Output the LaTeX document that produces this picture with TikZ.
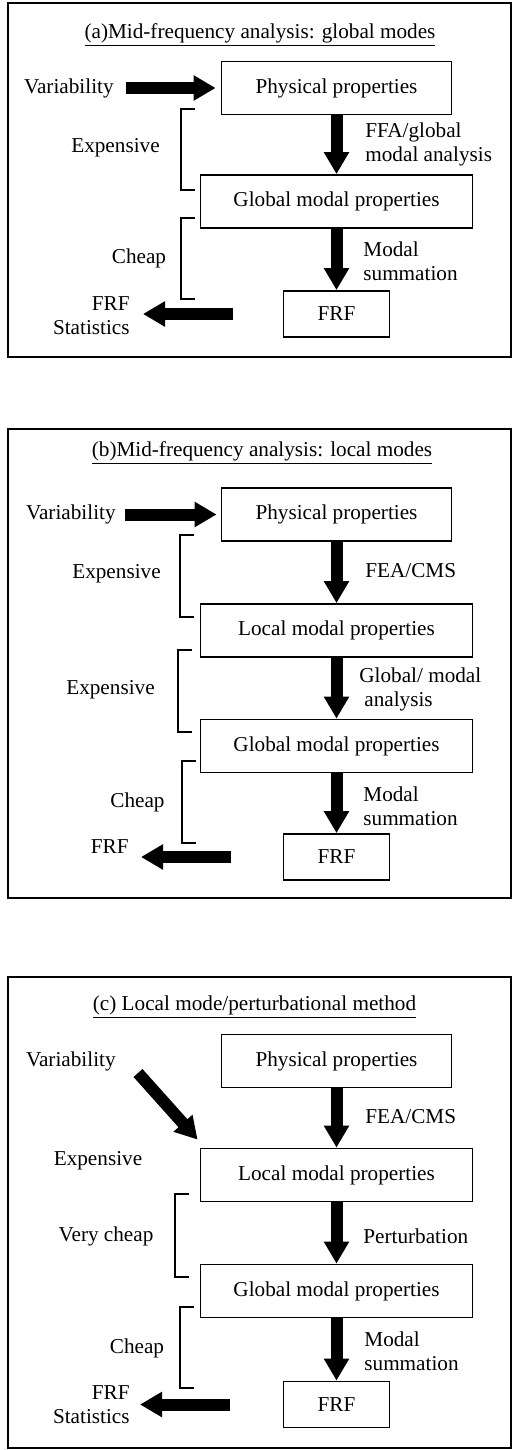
\documentclass[tikz,border=0pt]{standalone}
\usepackage{fontspec}
\setmainfont{Liberation Serif}
\usetikzlibrary{arrows.meta}

\begin{document}
\begin{tikzpicture}[x=0.5pt, y=-0.5pt,
    every node/.style={font=\fontsize{10.6}{12}\selectfont, inner sep=1pt},
    propbox/.style={draw, line width=0.9pt, inner sep=0pt},
    bigarrow/.style={line width=6pt, -{Triangle[width=12pt,length=11pt]}},
    bracket/.style={line width=1pt},
    panel/.style={line width=1pt},
    note/.style={align=left, anchor=west}]
    % Define box sizes
    \def\physw{115pt}
    \def\modalw{136pt}
    \def\frfw{53pt}
    \def\boxh{26.5pt}
    \tikzset{
        physbox/.style={propbox, minimum width=\physw, minimum height=\boxh},
        modalbox/.style={propbox, minimum width=\modalw, minimum height=\boxh},
        frfbox/.style={propbox, minimum width=\frfw, minimum height=23pt}
    }

    \useasboundingbox (0,0) rectangle (515,1450);

    % Panel frames
    \foreach \ya/\yb in {3/357, 429/898, 977/1448} {
        \draw[panel] (8,\ya) rectangle (511,\yb);
    }

    % Cost brackets
    \foreach \xa/\ya/\yb in {181/109/190, 181/218/299, 180/535/617, 178/650/732,
                             182/761/843, 175/1194/1277, 180/1307/1388} {
        \draw[bracket] (\xa+14,\ya) -- (\xa,\ya) -- (\xa,\yb) -- (\xa+14,\yb);
    }

    % (a) global modes
    \node (title1) at (260,35) {\underline{(a)Mid-frequency analysis: global modes}};
    \node[anchor=east] (var1) at (116,88) {Variability};
    \node[physbox] (phys1) at (336.5,88) {Physical properties};
    \node[modalbox] (glob1) at (336.5,201.5) {Global modal properties};
    \node[frfbox] (frf1) at (336.5,314) {FRF};
    \node (exp1) at (115.5,148) {Expensive};
    \node (cheap1) at (139,258) {Cheap};
    \node[note] (lab1a) at (363,144.5) {FFA/global\\modal analysis};
    \node[note] (lab1b) at (361,261) {Modal\\summation};
    \node[anchor=east, align=right] (out1) at (132,316) {FRF\\Statistics};
    \draw[bigarrow, shorten <=5pt, shorten >=2.5pt] (var1.east) -- (phys1.west);
    \draw[bigarrow] (phys1.south) -- (glob1.north);
    \draw[bigarrow] (glob1.south) -- (frf1.north);
    \draw[bigarrow, shorten <=25pt, shorten >=5.5pt] (frf1.west) -- (out1.east |- frf1.west);

    % (b) local modes
    \node (title2) at (262,453) {\underline{(b)Mid-frequency analysis: local modes}};
    \node[anchor=east] (var2) at (118,514.5) {Variability};
    \node[physbox] (phys2) at (336.5,514.5) {Physical properties};
    \node[modalbox] (loc2) at (336.5,630.5) {Local modal properties};
    \node[modalbox] (glob2) at (336.5,746) {Global modal properties};
    \node[frfbox] (frf2) at (336.5,857) {FRF};
    \node (exp2a) at (116.5,574) {Expensive};
    \node (exp2b) at (110.5,690) {Expensive};
    \node (cheap2) at (137.5,802) {Cheap};
    \node[note] (lab2a) at (363,571) {FEA/CMS};
    \node[note] (lab2b) at (357,689) {Global/ modal\\\hspace*{2.5pt}analysis};
    \node[note] (lab2c) at (361,806) {Modal\\summation};
    \node[anchor=east] (out2) at (131,847) {FRF};
    \draw[bigarrow, shorten <=3.5pt, shorten >=2pt] (var2.east) -- (phys2.west);
    \draw[bigarrow] (phys2.south) -- (loc2.north);
    \draw[bigarrow] (loc2.south) -- (glob2.north);
    \draw[bigarrow] (glob2.south) -- (frf2.north);
    \draw[bigarrow, shorten <=26pt, shorten >=5pt] (frf2.west) -- (out2.east |- frf2.west);

    % (c) perturbational method
    \node (title3) at (254.5,1007) {\underline{(c) Local mode/perturbational method}};
    \node[anchor=east] (var3) at (118,1061) {Variability};
    \node[physbox] (phys3) at (336.5,1061) {Physical properties};
    \node[modalbox] (loc3) at (336.5,1175) {Local modal properties};
    \node[modalbox] (glob3) at (336.5,1291) {Global modal properties};
    \node[frfbox] (frf3) at (336.5,1404.5) {FRF};
    \node (exp3) at (98,1161) {Expensive};
    \node (vcheap3) at (106,1236) {Very cheap};
    \node (cheap3) at (137,1348) {Cheap};
    \node[note] (lab3a) at (363,1117) {FEA/CMS};
    \node[note] (lab3b) at (361,1236) {Perturbation};
    \node[note] (lab3c) at (362,1351.5) {Modal\\summation};
    \node[anchor=east, align=right] (out3) at (132,1405) {FRF\\Statistics};
    \draw[bigarrow] ([shift={(20,12)}]var3.east) -- ([shift={(-2,-8)}]loc3.north west);
    \draw[bigarrow] (phys3.south) -- (loc3.north);
    \draw[bigarrow] (loc3.south) -- (glob3.north);
    \draw[bigarrow] (glob3.south) -- (frf3.north);
    \draw[bigarrow, shorten <=26.5pt, shorten >=4pt] (frf3.west) -- (out3.east |- frf3.west);
\end{tikzpicture}
\end{document}
